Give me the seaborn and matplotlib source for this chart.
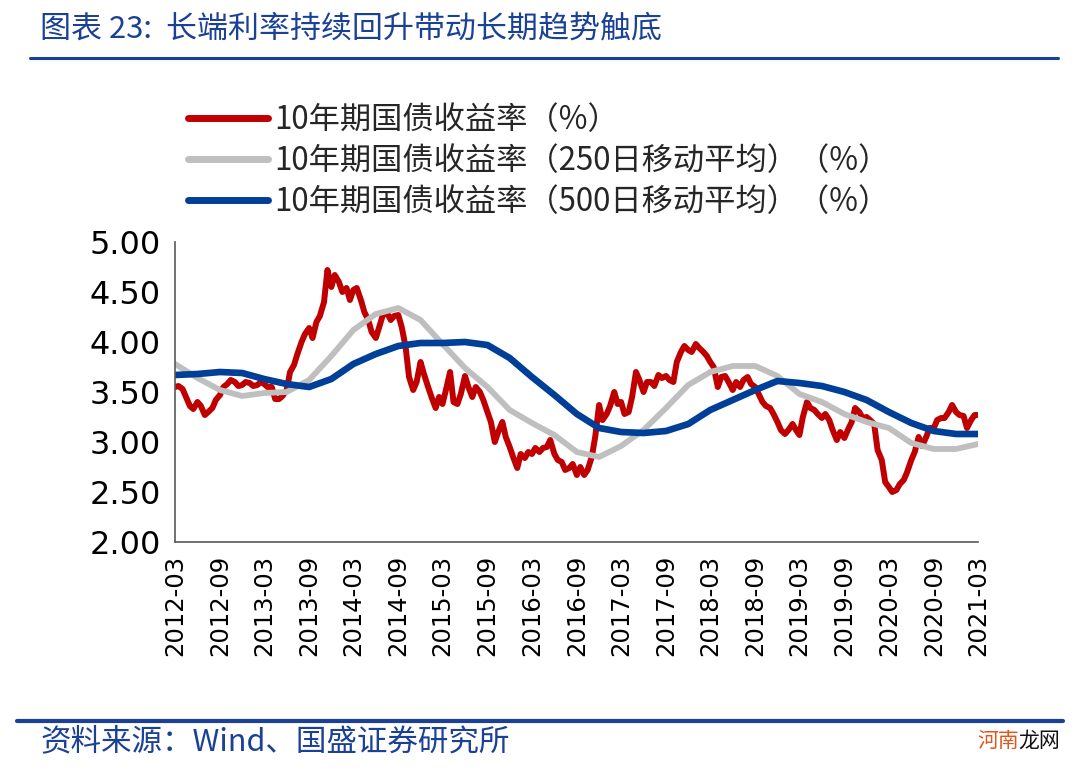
import numpy as np
import pandas as pd
import matplotlib
matplotlib.use("Agg")
import matplotlib.pyplot as plt
from matplotlib.lines import Line2D
import seaborn as sns

# ---------------- data ----------------
series_names = [
    "10年期国债收益率（%）",
    "10年期国债收益率（250日移动平均）（%）",
    "10年期国债收益率（500日移动平均）（%）",
]
tick_labels = ["2012-03", "2012-09", "2013-03", "2013-09", "2014-03", "2014-09",
               "2015-03", "2015-09", "2016-03", "2016-09", "2017-03", "2017-09",
               "2018-03", "2018-09", "2019-03", "2019-09", "2020-03", "2020-09",
               "2021-03"]
y_ticks = [2.00, 2.50, 3.00, 3.50, 4.00, 4.50, 5.00]

# 10Y yield, read twice a month (1st and 15th), 2012-03 .. 2021-03
yield_10y = [
    3.55, 3.56, 3.53, 3.45, 3.36, 3.33, 3.40, 3.36, 3.27, 3.30, 3.34, 3.42,
    3.47, 3.55, 3.58, 3.62, 3.60, 3.56, 3.57, 3.60, 3.59, 3.56, 3.57, 3.60,
    3.58, 3.55, 3.55, 3.43, 3.43, 3.46, 3.52, 3.70, 3.77, 3.88, 4.00, 4.08,
    4.14, 4.04, 4.20, 4.26, 4.40, 4.72, 4.55, 4.67, 4.60, 4.50, 4.54, 4.42,
    4.52, 4.54, 4.42, 4.30, 4.22, 4.10, 4.04, 4.15, 4.28, 4.30, 4.22, 4.26,
    4.27, 4.15, 3.95, 3.65, 3.52, 3.60, 3.80, 3.68, 3.55, 3.45, 3.34, 3.45,
    3.38, 3.52, 3.70, 3.40, 3.38, 3.48, 3.66, 3.55, 3.45, 3.55, 3.50, 3.42,
    3.30, 3.20, 3.00, 3.10, 3.20, 3.05, 2.95, 2.85, 2.74, 2.88, 2.84, 2.90,
    2.88, 2.94, 2.90, 2.94, 2.95, 3.02, 2.88, 2.82, 2.80, 2.72, 2.74, 2.78,
    2.67, 2.75, 2.67, 2.72, 2.85, 3.05, 3.37, 3.22, 3.28, 3.36, 3.50, 3.38,
    3.40, 3.28, 3.30, 3.45, 3.70, 3.62, 3.50, 3.60, 3.60, 3.56, 3.67, 3.64,
    3.66, 3.62, 3.60, 3.80, 3.90, 3.96, 3.92, 3.90, 3.98, 3.94, 3.90, 3.86,
    3.80, 3.75, 3.55, 3.65, 3.66, 3.60, 3.52, 3.60, 3.55, 3.62, 3.65, 3.58,
    3.55, 3.48, 3.40, 3.36, 3.34, 3.28, 3.20, 3.12, 3.08, 3.12, 3.18, 3.12,
    3.07, 3.25, 3.40, 3.34, 3.32, 3.28, 3.24, 3.28, 3.22, 3.12, 3.02, 3.10,
    3.04, 3.12, 3.20, 3.34, 3.30, 3.24, 3.25, 3.22, 3.18, 2.92, 2.82, 2.60,
    2.55, 2.50, 2.52, 2.58, 2.62, 2.70, 2.82, 2.90, 3.05, 2.96, 3.05, 3.14,
    3.14, 3.22, 3.24, 3.24, 3.30, 3.37, 3.30, 3.27, 3.26, 3.14, 3.22, 3.27,
    3.27,
]

# moving averages, read every quarter, 2012-03 .. 2021-03
ma_250 = [3.78, 3.64, 3.52, 3.46, 3.49, 3.50, 3.62, 3.86, 4.12, 4.28, 4.34,
          4.22, 3.98, 3.74, 3.55, 3.32, 3.19, 3.07, 2.90, 2.85, 2.96, 3.12,
          3.34, 3.57, 3.70, 3.76, 3.76, 3.66, 3.48, 3.40, 3.28, 3.20, 3.14,
          2.99, 2.93, 2.93, 2.98]
ma_500 = [3.67, 3.68, 3.70, 3.69, 3.63, 3.58, 3.55, 3.63, 3.78, 3.88, 3.96,
          3.99, 3.99, 4.00, 3.97, 3.84, 3.65, 3.47, 3.28, 3.14, 3.10, 3.09,
          3.11, 3.18, 3.32, 3.42, 3.52, 3.61, 3.59, 3.56, 3.50, 3.42, 3.30,
          3.19, 3.11, 3.08, 3.08]

start, end = "2012-03-01", "2021-03-01"
df_y = pd.DataFrame({"date": pd.date_range(start, end, freq="SMS"), "value": yield_10y})
df_250 = pd.DataFrame({"date": pd.date_range(start, end, freq="3MS"), "value": ma_250})
df_500 = pd.DataFrame({"date": pd.date_range(start, end, freq="3MS"), "value": ma_500})

# ---------------- style ----------------
sns.set_style("white")
plt.rcParams["font.family"] = ["Noto Sans CJK SC", "DejaVu Sans"]

RED = "#C00000"
GREY = "#BFBFBF"
BLUE = "#003F98"
NAVY = "#1B4196"
AXIS = "#595959"

fig = plt.figure(figsize=(10.8, 7.71), dpi=100)
ax = fig.add_axes([175 / 1080, 1 - 542 / 771, 803 / 1080, 300 / 771])

sns.lineplot(data=df_y, x="date", y="value", ax=ax, color=RED, lw=4.3)
sns.lineplot(data=df_250, x="date", y="value", ax=ax, color=GREY, lw=4.2)
sns.lineplot(data=df_500, x="date", y="value", ax=ax, color=BLUE, lw=4.8)

ax.set_xlim(pd.Timestamp(start), pd.Timestamp(end))
ax.set_ylim(2, 5)
ax.set_yticks(y_ticks)
ax.set_yticklabels([f"{v:.2f}" for v in y_ticks], family="DejaVu Sans", fontsize=23)
ax.set_xticks(pd.to_datetime([t + "-01" for t in tick_labels]))
ax.set_xticklabels(tick_labels, rotation=90, family="DejaVu Sans", fontsize=17.5)
ax.set_xlabel("")
ax.set_ylabel("")
for s in ["top", "right"]:
    ax.spines[s].set_visible(False)
for s in ["left", "bottom"]:
    ax.spines[s].set_color(AXIS)
    ax.spines[s].set_linewidth(1.2)
ax.tick_params(axis="both", direction="in", length=7, width=1.2, color=AXIS,
               labelcolor="black")
ax.tick_params(axis="y", pad=10)
ax.tick_params(axis="x", pad=9)
ax.grid(False)

# legend
handles = [Line2D([], [], color=c, lw=5.0, solid_capstyle="round")
           for c in (RED, GREY, BLUE)]
fig.legend(handles, series_names, loc="upper left",
           bbox_to_anchor=(188 / 1080, 1 - 104 / 771), frameon=False,
           fontsize=22.5, handlelength=2.55, handletextpad=0.2,
           labelspacing=0.28, borderpad=0, borderaxespad=0)

# title & footer
fig.text(40 / 1080, 1 - 29 / 771, "图表 23:  长端利率持续回升带动长期趋势触底",
         color=NAVY, fontsize=22.3, va="center", ha="left", style="italic")
fig.add_artist(Line2D([30 / 1080, 1058 / 1080], [1 - 58 / 771, 1 - 58 / 771],
                      color=NAVY, lw=2.2, transform=fig.transFigure))
fig.add_artist(Line2D([17 / 1080, 1063 / 1080], [1 - 721 / 771, 1 - 721 / 771],
                      color=NAVY, lw=3.0, transform=fig.transFigure))
fig.text(40 / 1080, 1 - 742 / 771, "资料来源：Wind、国盛证券研究所",
         color=NAVY, fontsize=22, va="center", ha="left", style="italic")
fig.text(977 / 1080, 1 - 741 / 771, "河南", color="#E2571E", fontsize=15,
         va="center", ha="left")
fig.text(1018 / 1080, 1 - 741 / 771, "龙网", color="#111111", fontsize=15,
         va="center", ha="left")

fig.savefig("out.png", dpi=100)
